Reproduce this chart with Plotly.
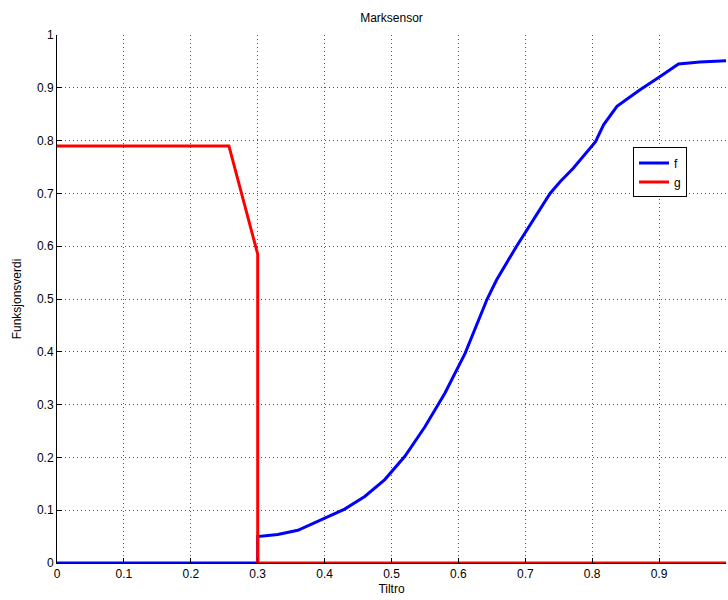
import plotly.graph_objects as go

f_x = [0.0, 0.3, 0.3, 0.33, 0.36, 0.40, 0.43, 0.46, 0.49, 0.52, 0.55, 0.58,
       0.61, 0.643, 0.657, 0.687, 0.737, 0.752, 0.772, 0.805, 0.817, 0.837,
       0.871, 0.901, 0.929, 0.961, 1.0]
f_y = [0.0, 0.0, 0.05, 0.054, 0.062, 0.084, 0.102, 0.126, 0.158, 0.202, 0.258, 0.322,
       0.397, 0.5, 0.536, 0.6, 0.7, 0.722, 0.748, 0.798, 0.830, 0.865,
       0.896, 0.921, 0.945, 0.949, 0.951]

g_x = [0.0, 0.257, 0.3, 0.3, 1.0]
g_y = [0.79, 0.79, 0.585, 0.0, 0.0]

ticks = [i / 10 for i in range(11)]
tick_text = ["0", "0.1", "0.2", "0.3", "0.4", "0.5", "0.6", "0.7", "0.8", "0.9", "1"]

fig = go.Figure()
fig.add_trace(go.Scatter(x=f_x, y=f_y, mode="lines", name="f",
                         line=dict(color="#0000ff", width=3)))
fig.add_trace(go.Scatter(x=g_x, y=g_y, mode="lines", name="g",
                         line=dict(color="#ff0000", width=3)))

axis_common = dict(
    showgrid=True, gridcolor="#555555", griddash="1px,3px", gridwidth=1,
    showline=True, linecolor="black", linewidth=1, mirror=False,
    ticks="inside", ticklen=5, tickcolor="black",
    zeroline=False, tickfont=dict(family="Liberation Sans, Arial", size=12, color="black"),
    tickvals=ticks, ticktext=tick_text,
)

fig.update_layout(
    width=728, height=600,
    margin=dict(l=57, r=2, t=35, b=37),
    paper_bgcolor="white", plot_bgcolor="white",
    font=dict(family="Liberation Sans, Arial", size=12, color="black"),
    title=dict(text="Marksensor", x=0.5, xanchor="center", y=0.97, yanchor="middle",
               xref="paper", font=dict(size=12)),
    xaxis=dict(range=[0, 1], title=dict(text="Tiltro", standoff=4, font=dict(size=12)),
               **axis_common),
    yaxis=dict(range=[0, 1], title=dict(text="Funksjonsverdi", standoff=12, font=dict(size=12)),
               **axis_common),
    legend=dict(x=0.861, y=0.787, xanchor="left", yanchor="top",
                bordercolor="black", borderwidth=1, bgcolor="white",
                font=dict(size=12), tracegroupgap=0, itemwidth=30),
    showlegend=True,
)

fig.write_html("out.html")
